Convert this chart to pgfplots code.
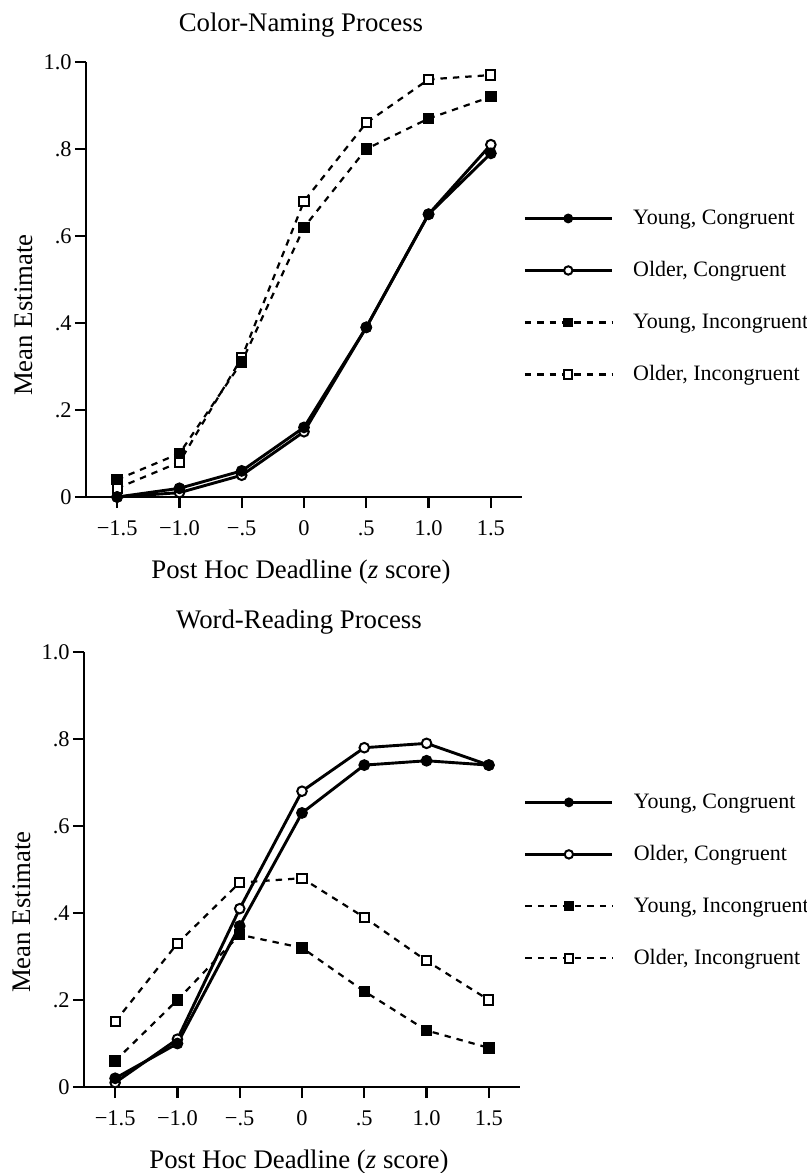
\documentclass[border=0pt]{standalone}
\usepackage{fontspec}
\setmainfont{Liberation Serif}
\usepackage{pgfplots}
\pgfplotsset{compat=1.18}

% series styles
\pgfplotsset{
  yc/.style={black, line width=1.45pt, mark=*, mark size=2.6pt,
    mark options={solid, fill=black, line width=0.7pt}},
  oc/.style={black, line width=1.45pt, mark=*, mark size=2.4pt,
    mark options={solid, fill=white, line width=1pt}},
  yi/.style={black, line width=1.1pt, dash pattern=on 3.2pt off 3pt, mark=square*, mark size=2.5pt,
    mark options={solid, fill=black, line width=0.7pt}},
  oi/.style={black, line width=1.1pt, dash pattern=on 3.2pt off 3pt, mark=square*, mark size=2.3pt,
    mark options={solid, fill=white, line width=1pt}},
  every axis title/.style={font=\fontsize{13.4}{15}\selectfont, anchor=base},
  panel/.style={
    scale only axis, width=218pt, height=217.5pt,
    xmin=-1.75, xmax=1.75, ymin=0, ymax=1,
    clip=false,
    axis lines=left,
    axis line style={-, line width=1.3pt},
    tick align=outside, major tick length=5.5pt,
    tick style={black, line width=1.2pt},
    xtick={-1.5,-1,-0.5,0,0.5,1,1.5},
    xticklabels={−1.5,−1.0,−.5,0,.5,1.0,1.5},
    ytick={0,0.2,0.4,0.6,0.8,1},
    yticklabels={0,.2,.4,.6,.8,1.0},
    ticklabel style={font=\fontsize{11.2}{13}\selectfont},
    xticklabel style={anchor=base, yshift=-13.5pt},
    yticklabel style={anchor=east, inner sep=0pt, xshift=-1.5pt},
    label style={font=\fontsize{13.4}{15}\selectfont},
    xlabel={Post Hoc Deadline (\textit{z} score)},
    ylabel={Mean Estimate},
    xlabel style={at={(axis description cs:0.493,-0.1862)}, anchor=base},
    legend cell align=left,
    legend image code/.code={
      \draw[mark repeat=2, mark phase=2, #1, mark size=2.1pt]
        plot coordinates {(0pt,0pt) (21.75pt,0pt) (43.5pt,0pt)};},
    legend style={draw=none, fill=none, inner sep=0pt, outer sep=0pt,
      anchor=west, row sep=15.5pt, column sep=10pt,
      font=\fontsize{11}{13}\selectfont,
      nodes={inner sep=0pt, text height=8.5pt, text depth=2pt}},
  }
}

\begin{document}
\begin{tikzpicture}
\useasboundingbox (-43pt,-338pt) rectangle (360.5pt,248.5pt);

% Color-naming panel
\begin{axis}[panel,
  title={Color-Naming Process},
  title style={at={(axis description cs:0.493,1.069)}},
  ylabel style={at={(axis description cs:-0.1216,0.418)}, anchor=base},
  legend style={at={(axis description cs:1.003,0.461)}}]
\addplot[oi, forget plot] coordinates {(-1.5,0.02) (-1,0.08) (-0.5,0.32) (0,0.68) (0.5,0.86) (1,0.96) (1.5,0.97)};
\addplot[yi, forget plot] coordinates {(-1.5,0.04) (-1,0.10) (-0.5,0.31) (0,0.62) (0.5,0.80) (1,0.87) (1.5,0.92)};
\addplot[oc, forget plot] coordinates {(-1.5,0.00) (-1,0.01) (-0.5,0.05) (0,0.15) (0.5,0.39) (1,0.65) (1.5,0.81)};
\addplot[yc, forget plot] coordinates {(-1.5,0.00) (-1,0.02) (-0.5,0.06) (0,0.16) (0.5,0.39) (1,0.65) (1.5,0.79)};
\addlegendimage{yc}\addlegendentry{Young, Congruent}
\addlegendimage{oc}\addlegendentry{Older, Congruent}
\addlegendimage{yi}\addlegendentry{Young, Incongruent}
\addlegendimage{oi}\addlegendentry{Older, Incongruent}
\end{axis}

% Word-reading panel
\begin{axis}[panel, at={(-1pt,-295pt)}, anchor=south west,
  title={Word-Reading Process},
  title style={at={(axis description cs:0.493,1.053)}},
  ylabel style={at={(axis description cs:-0.1216,0.402)}, anchor=base},
  legend style={at={(axis description cs:1.009,0.475)}}]
\addplot[oi, forget plot] coordinates {(-1.5,0.15) (-1,0.33) (-0.5,0.47) (0,0.48) (0.5,0.39) (1,0.29) (1.5,0.20)};
\addplot[yi, forget plot] coordinates {(-1.5,0.06) (-1,0.20) (-0.5,0.35) (0,0.32) (0.5,0.22) (1,0.13) (1.5,0.09)};
\addplot[oc, forget plot] coordinates {(-1.5,0.01) (-1,0.11) (-0.5,0.41) (0,0.68) (0.5,0.78) (1,0.79) (1.5,0.74)};
\addplot[yc, forget plot] coordinates {(-1.5,0.02) (-1,0.10) (-0.5,0.37) (0,0.63) (0.5,0.74) (1,0.75) (1.5,0.74)};
\addlegendimage{yc}\addlegendentry{Young, Congruent}
\addlegendimage{oc}\addlegendentry{Older, Congruent}
\addlegendimage{yi}\addlegendentry{Young, Incongruent}
\addlegendimage{oi}\addlegendentry{Older, Incongruent}
\end{axis}
\end{tikzpicture}
\end{document}
